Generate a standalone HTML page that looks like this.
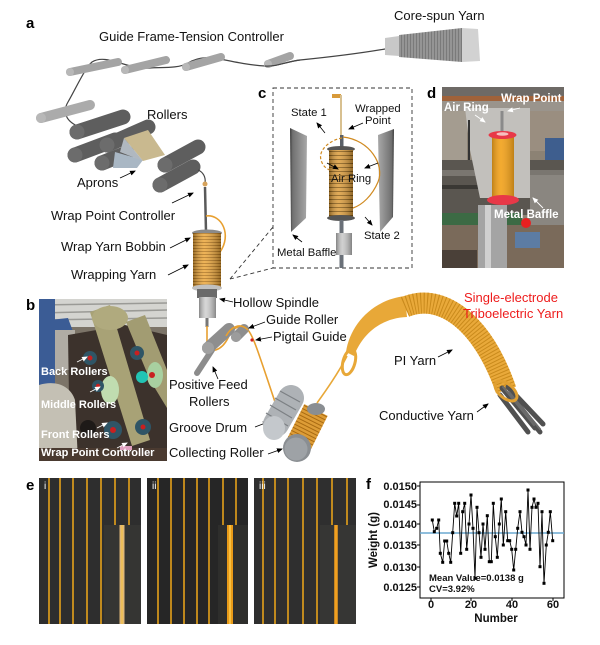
<!DOCTYPE html>
<html><head><meta charset="utf-8"><style>
html,body{margin:0;padding:0;background:#fff;}
svg{display:block;font-family:"Liberation Sans",Arial,sans-serif;}
</style></head><body>
<svg width="600" height="645" viewBox="0 0 600 645" xmlns="http://www.w3.org/2000/svg">
<defs>
<pattern id="wrap" width="4" height="3" patternUnits="userSpaceOnUse"><rect width="4" height="3" fill="#eba63a"/><rect y="2.2" width="4" height="0.8" fill="#a86a12"/></pattern>
<pattern id="wrapc" width="4" height="4" patternUnits="userSpaceOnUse"><rect width="4" height="4" fill="#dc9c3a"/><rect y="3" width="4" height="1" fill="#8a5a10"/></pattern>
<pattern id="ridge" width="3" height="4" patternUnits="userSpaceOnUse"><rect width="3" height="4" fill="#959595"/><rect x="2" width="1" height="4" fill="#7a7a7a"/></pattern>
<linearGradient id="cyl" x1="0" x2="1" y1="0" y2="0"><stop offset="0" stop-color="#000" stop-opacity="0.35"/><stop offset="0.4" stop-color="#fff" stop-opacity="0.15"/><stop offset="1" stop-color="#000" stop-opacity="0.35"/></linearGradient>
<linearGradient id="baf" x1="0" x2="1"><stop offset="0" stop-color="#3a3a3a"/><stop offset="0.15" stop-color="#707070"/><stop offset="1" stop-color="#a8a8a8"/></linearGradient>
<linearGradient id="baf2" x1="0" x2="1"><stop offset="0" stop-color="#a8a8a8"/><stop offset="0.85" stop-color="#707070"/><stop offset="1" stop-color="#3a3a3a"/></linearGradient>
<clipPath id="cb"><rect x="39" y="299" width="128" height="162"/></clipPath>
<clipPath id="cd"><rect x="442" y="87" width="122" height="181"/></clipPath>
<marker id="ah" markerWidth="6" markerHeight="6" refX="5" refY="3" orient="auto" markerUnits="userSpaceOnUse"><path d="M0,0.5 L6,3 L0,5.5 z" fill="#000"/></marker>
<marker id="ahw" markerWidth="6" markerHeight="6" refX="5" refY="3" orient="auto" markerUnits="userSpaceOnUse"><path d="M0,0.5 L6,3 L0,5.5 z" fill="#fff"/></marker>
</defs>
<rect width="600" height="645" fill="#fff"/>

<!-- ================= PANEL A ================= -->
<text x="26" y="28" font-size="15" font-weight="bold">a</text>
<text x="99" y="41" font-size="13" fill="#111">Guide Frame-Tension Controller</text>
<text x="394" y="20" font-size="13" fill="#111">Core-spun Yarn</text>

<path d="M385,49 C350,55 320,58 300,60 C285,62 275,67 265,66 C250,65 240,63 225,60 S200,56 188,63 C178,69 160,67 150,68 S130,66 120,63 S100,57 92,62 C85,68 75,90 68,102 C62,112 66,122 80,127" fill="none" stroke="#444" stroke-width="1.2"/>
<polygon points="385,38 399,36 399,56 385,55" fill="#c8c8c8"/>
<polygon points="399,35 462,28 462,62 399,57" fill="url(#ridge)"/>
<polygon points="462,28 478,29 480,61 462,62" fill="#d2d2d2"/>
<g stroke-linecap="round">
<line x1="70" y1="72" x2="118" y2="62" stroke="#a4a4a4" stroke-width="8"/>
<line x1="125" y1="70" x2="166" y2="60" stroke="#a4a4a4" stroke-width="8"/>
<line x1="186" y1="67" x2="221" y2="57" stroke="#a4a4a4" stroke-width="8"/>
<line x1="268" y1="64" x2="290" y2="56" stroke="#a4a4a4" stroke-width="8"/>
<line x1="41" y1="118" x2="90" y2="105" stroke="#ababab" stroke-width="10"/>
</g>
<g fill="#b8b8b8"><circle cx="70" cy="72" r="4"/><circle cx="125" cy="70" r="4"/><circle cx="186" cy="67" r="4"/><circle cx="268" cy="64" r="4"/><circle cx="41" cy="118" r="5"/></g>
<path d="M300,60 C285,62 275,67 265,66" fill="none" stroke="#444" stroke-width="1.2"/>

<g stroke-linecap="round" stroke="#5e5e5e" stroke-width="15">
<line x1="75" y1="155" x2="115" y2="140"/>
<line x1="77" y1="132" x2="123" y2="117"/>
</g>
<circle cx="75" cy="155" r="7.5" fill="#6c6c6c"/>
<circle cx="77" cy="132" r="7.5" fill="#6c6c6c"/>
<line x1="102" y1="163" x2="127" y2="153" stroke="#5e5e5e" stroke-width="15" stroke-linecap="round"/>
<circle cx="102" cy="163" r="7.5" fill="#6c6c6c"/>
<polygon points="115,152 143,160 137,168 113,168" fill="#a9b7c4"/>
<line x1="107" y1="145" x2="148" y2="127" stroke="#5e5e5e" stroke-width="15" stroke-linecap="round"/>
<circle cx="107" cy="145" r="7.5" fill="#6c6c6c"/>
<polygon points="124,138 148,130 165,155 143,161" fill="#c9b98f"/>
<polygon points="124,138 143,161 120,152" fill="#b0b8c0"/>
<line x1="165" y1="157" x2="172" y2="155" stroke="#444" stroke-width="1"/>
<line x1="160" y1="185" x2="193" y2="167" stroke="#5e5e5e" stroke-width="15" stroke-linecap="round"/>
<circle cx="160" cy="185" r="7.5" fill="#6c6c6c"/>
<line x1="165" y1="165" x2="198" y2="147" stroke="#5e5e5e" stroke-width="15" stroke-linecap="round"/>
<circle cx="165" cy="165" r="7.5" fill="#6c6c6c"/>
<path d="M198,170 C203,172 206,177 205,183" fill="none" stroke="#444" stroke-width="1.2"/>
<text x="147" y="119" font-size="13" fill="#111">Rollers</text>
<text x="77" y="187" font-size="13" fill="#111">Aprons</text>
<line x1="120" y1="178" x2="135" y2="171" stroke="#000" stroke-width="0.8" marker-end="url(#ah)"/>
<text x="51" y="220" font-size="13" fill="#111">Wrap Point Controller</text>
<line x1="172" y1="203" x2="193" y2="193" stroke="#000" stroke-width="0.8" marker-end="url(#ah)"/>
<text x="61" y="251" font-size="13" fill="#111">Wrap Yarn Bobbin</text>
<line x1="170" y1="248" x2="190" y2="238" stroke="#000" stroke-width="0.8" marker-end="url(#ah)"/>
<text x="71" y="279" font-size="13" fill="#111">Wrapping Yarn</text>
<line x1="168" y1="275" x2="188" y2="265" stroke="#000" stroke-width="0.8" marker-end="url(#ah)"/>

<circle cx="205" cy="184" r="2.5" fill="#d6a25a"/>
<line x1="205" y1="187" x2="206" y2="232" stroke="#5a5a5a" stroke-width="2.5"/>
<path d="M206,216 C222,214 232,235 220,252" fill="none" stroke="#e8a030" stroke-width="1.6"/>
<ellipse cx="207" cy="233" rx="15" ry="3.5" fill="#8a8a8a"/>
<rect x="193" y="233" width="28" height="54" fill="url(#wrap)"/>
<rect x="193" y="233" width="28" height="54" fill="url(#cyl)"/>
<ellipse cx="207" cy="288" rx="15" ry="3.5" fill="#c0c0c0"/>
<rect x="197" y="289" width="20" height="9" fill="#6a6a6a"/>
<rect x="199" y="297" width="17" height="21" fill="#cfcfcf"/>
<rect x="199" y="297" width="17" height="21" fill="url(#cyl)"/>
<rect x="205.5" y="318" width="3" height="9" fill="#777"/>
<line x1="230" y1="279" x2="273" y2="227" stroke="#333" stroke-width="0.9" stroke-dasharray="4,3"/>
<line x1="230" y1="279" x2="273" y2="268" stroke="#333" stroke-width="0.9" stroke-dasharray="4,3"/>

<path d="M207,326 L207,345 C210,355 222,350 228,338 C232,328 240,323 248,330 C253,336 256,345 276,405" fill="none" stroke="#e8a030" stroke-width="1.6"/>
<line x1="197" y1="373" x2="212" y2="350" stroke="#8c8c8c" stroke-width="6" stroke-linecap="round"/>
<line x1="208" y1="348" x2="229" y2="329" stroke="#8e8e8e" stroke-width="12" stroke-linecap="round"/>
<circle cx="208" cy="348" r="6" fill="#a0a0a0"/>
<line x1="236" y1="337" x2="244" y2="329" stroke="#8e8e8e" stroke-width="10" stroke-linecap="round"/>
<circle cx="236" cy="337" r="5" fill="#9c9c9c"/>
<path d="M226,336 C231,327 240,322 248,330" fill="none" stroke="#e8a030" stroke-width="1.6"/>
<circle cx="252" cy="340" r="1.6" fill="#d02020"/>
<text x="233" y="307" font-size="13" fill="#111">Hollow Spindle</text>
<line x1="233" y1="302" x2="220" y2="299" stroke="#000" stroke-width="0.8" marker-end="url(#ah)"/>
<text x="266" y="324" font-size="13" fill="#111">Guide Roller</text>
<line x1="265" y1="322" x2="249" y2="328" stroke="#000" stroke-width="0.8" marker-end="url(#ah)"/>
<text x="273" y="341" font-size="13" fill="#111">Pigtail Guide</text>
<line x1="272" y1="337" x2="256" y2="340" stroke="#000" stroke-width="0.8" marker-end="url(#ah)"/>
<text x="169" y="389" font-size="13" fill="#111">Positive Feed</text>
<text x="189" y="406" font-size="13" fill="#111">Rollers</text>
<line x1="218" y1="379" x2="213" y2="367" stroke="#000" stroke-width="0.8" marker-end="url(#ah)"/>
<text x="169" y="432" font-size="13" fill="#111">Groove Drum</text>
<line x1="255" y1="427" x2="268" y2="422" stroke="#000" stroke-width="0.8" marker-end="url(#ah)"/>
<text x="169" y="457" font-size="13" fill="#111">Collecting Roller</text>
<line x1="268" y1="454" x2="282" y2="449" stroke="#000" stroke-width="0.8" marker-end="url(#ah)"/>

<line x1="276" y1="424" x2="291" y2="398" stroke="#aeb2b6" stroke-width="26" stroke-linecap="round"/>
<g stroke="#7c8084" stroke-width="1.2" fill="none">
<path d="M270,405 L292,418"/><path d="M275,398 L296,410"/><path d="M280,391 L300,402"/><path d="M266,413 L288,426"/>
</g>
<ellipse cx="274" cy="428" rx="11" ry="12" fill="#c4c8cc"/>
<line x1="298" y1="446" x2="316" y2="410" stroke="#dd9c36" stroke-width="26" stroke-linecap="butt"/>
<line x1="298" y1="446" x2="316" y2="410" stroke="#a86a12" stroke-width="26" stroke-dasharray="1,2.5"/>
<ellipse cx="316" cy="409" rx="9" ry="6" fill="#8a8e92"/>
<circle cx="297" cy="448" r="14" fill="#8a8e92"/>
<circle cx="296" cy="449" r="11.5" fill="#9ea2a6"/>

<path d="M317,403 C330,385 340,370 347,356" fill="none" stroke="#e8a838" stroke-width="1.6"/>
<ellipse cx="349" cy="362" rx="6" ry="13" transform="rotate(15 349 362)" fill="none" stroke="#e8a838" stroke-width="3"/>
<path d="M346,352 C350,325 372,300 405,296 L407,317 C380,318 362,335 354,356 Z" fill="#e8a838"/>
<path d="M405,307 C440,292 482,320 506,390" fill="none" stroke="#e9a93a" stroke-width="21"/>
<path d="M405,307 C440,292 482,320 506,390" fill="none" stroke="#c98a1c" stroke-width="21" stroke-dasharray="1,2.2"/>
<g stroke="#505050" stroke-width="5" stroke-linecap="round">
<line x1="502" y1="388" x2="535" y2="428"/>
<line x1="508" y1="387" x2="543" y2="424"/>
<line x1="500" y1="395" x2="528" y2="432"/>
<line x1="510" y1="394" x2="540" y2="432"/>
</g>
<g stroke="#6a6a6a" stroke-width="2" stroke-linecap="round">
<line x1="503" y1="387" x2="534" y2="425"/><line x1="509" y1="392" x2="540" y2="429"/>
</g>
<ellipse cx="506" cy="391" rx="13" ry="7" transform="rotate(40 506 391)" fill="none" stroke="#e0a032" stroke-width="3"/>
<text x="464" y="302" font-size="13" fill="#ee1c1c">Single-electrode</text>
<text x="463" y="318" font-size="13" fill="#ee1c1c">Triboelectric Yarn</text>
<text x="394" y="365" font-size="13" fill="#111">PI Yarn</text>
<line x1="438" y1="357" x2="452" y2="350" stroke="#000" stroke-width="0.8" marker-end="url(#ah)"/>
<text x="379" y="420" font-size="13" fill="#111">Conductive Yarn</text>
<line x1="477" y1="412" x2="488" y2="404" stroke="#000" stroke-width="0.8" marker-end="url(#ah)"/>

<!-- ================= PANEL C ================= -->
<text x="258" y="98" font-size="15" font-weight="bold">c</text>
<rect x="273" y="88" width="139" height="180" fill="none" stroke="#333" stroke-width="0.9" stroke-dasharray="4,3"/>
<polygon points="290,128 307,136 306,218 291,232" fill="url(#baf)"/>
<polygon points="378,135 394,129 393,217 380,232" fill="url(#baf2)"/>
<rect x="332" y="94" width="9" height="4" fill="#d89a3a"/>
<line x1="341" y1="95" x2="341" y2="136" stroke="#d8c090" stroke-width="2"/>
<rect x="340" y="135" width="3.5" height="14" fill="#5a6068"/>
<path d="M342,138 C330,140 318,150 321,160 C323,167 328,170 333,171" fill="none" stroke="#d08a20" stroke-width="1.2" stroke-dasharray="3,2"/>
<ellipse cx="341" cy="149" rx="14" ry="3" fill="#555"/>
<rect x="329" y="150" width="24" height="67" fill="url(#wrapc)"/>
<rect x="329" y="150" width="24" height="67" fill="url(#cyl)"/>
<path d="M343,137 C370,140 385,165 378,182 C372,196 362,205 353,208" fill="none" stroke="#d08a20" stroke-width="1.2"/>
<ellipse cx="341" cy="218" rx="14" ry="3" fill="#555"/>
<rect x="339.5" y="220" width="4" height="13" fill="#6a7078"/>
<rect x="336" y="233" width="16" height="22" fill="#c8c8c8"/>
<rect x="336" y="233" width="16" height="22" fill="url(#cyl)"/>
<rect x="339.5" y="255" width="4" height="13" fill="#6a7078"/>
<g font-size="11.3" fill="#111">
<text x="291" y="116">State 1</text>
<text x="355" y="112">Wrapped</text>
<text x="365" y="124">Point</text>
<text x="331" y="182">Air Ring</text>
<text x="364" y="239">State 2</text>
<text x="277" y="256">Metal Baffle</text>
</g>
<g stroke="#000" stroke-width="0.8">
<line x1="325" y1="133" x2="317" y2="123" marker-end="url(#ah)"/>
<line x1="363" y1="123" x2="349" y2="129" marker-end="url(#ah)"/>
<line x1="327" y1="163" x2="338" y2="169" marker-end="url(#ah)"/>
<line x1="378" y1="163" x2="365" y2="168" marker-end="url(#ah)"/>
<line x1="365" y1="217" x2="372" y2="225" marker-end="url(#ah)"/>
<line x1="302" y1="242" x2="293" y2="235" marker-end="url(#ah)"/>
</g>

<!-- ================= PANEL D ================= -->
<text x="427" y="98" font-size="15" font-weight="bold">d</text>
<g clip-path="url(#cd)">
<rect x="442" y="87" width="122" height="181" fill="#8c8274"/>
<rect x="442" y="87" width="122" height="12" fill="#6e6a66"/>
<rect x="442" y="96" width="122" height="5" fill="#a0623a"/>
<rect x="442" y="101" width="122" height="10" fill="#9a948c"/>
<rect x="442" y="111" width="25" height="50" fill="#a49c90"/>
<rect x="530" y="111" width="34" height="40" fill="#9a8e80"/>
<rect x="545" y="138" width="19" height="30" fill="#3e5e8e"/>
<rect x="442" y="160" width="122" height="55" fill="#5a5650"/>
<rect x="442" y="170" width="122" height="6" fill="#7a7670"/>
<rect x="442" y="185" width="122" height="4" fill="#3a3834"/>
<rect x="530" y="175" width="34" height="60" fill="#8a8680"/>
<polygon points="465,108 530,108 530,198 480,198 470,150" fill="#c2c0bc"/>
<rect x="468" y="120" width="2" height="40" fill="#333"/>
<rect x="442" y="213" width="80" height="12" fill="#3c6a44"/>
<rect x="442" y="225" width="122" height="43" fill="#7a6a5a"/>
<rect x="478" y="205" width="29" height="63" fill="#a4a4a4"/>
<rect x="485" y="205" width="6" height="63" fill="#d0d0d0"/>
<rect x="515" y="232" width="25" height="16" fill="#5c7ca4"/>
<rect x="442" y="250" width="35" height="18" fill="#4a4038"/>
<circle cx="526" cy="223" r="5" fill="#e82020"/>
<rect x="500.5" y="111" width="3" height="25" fill="#8a8a8a"/>
<rect x="492" y="135" width="22" height="63" fill="#f2a21c"/>
<rect x="492" y="135" width="22" height="63" fill="url(#cyl)" opacity="0.6"/>
<ellipse cx="502.5" cy="135" rx="14" ry="4" fill="#e83848"/>
<ellipse cx="502.5" cy="134" rx="6" ry="1.8" fill="#f6c0c0"/>
<ellipse cx="503" cy="200" rx="16" ry="5" fill="#e83848"/>
</g>
<g font-size="11.5" font-weight="bold" fill="#fff">
<text x="501" y="102">Wrap Point</text>
<text x="444" y="111">Air Ring</text>
<text x="494" y="218">Metal Baffle</text>
</g>
<g stroke="#fff" stroke-width="0.9">
<line x1="520" y1="108" x2="508" y2="111" marker-end="url(#ahw)"/>
<line x1="475" y1="115" x2="485" y2="122" marker-end="url(#ahw)"/>
<line x1="543" y1="208" x2="533" y2="198" marker-end="url(#ahw)"/>
</g>

<!-- ================= PANEL B ================= -->
<text x="26" y="310" font-size="15" font-weight="bold">b</text>
<g clip-path="url(#cb)">
<rect x="39" y="299" width="128" height="162" fill="#7c7468"/>
<rect x="39" y="299" width="128" height="28" fill="#d4d4d0"/>
<g stroke="#9a9a96" stroke-width="1.5"><line x1="39" y1="305" x2="167" y2="303"/><line x1="39" y1="313" x2="167" y2="310"/><line x1="39" y1="320" x2="167" y2="318"/></g>
<rect x="39" y="299" width="16" height="120" fill="#3b5c95"/>
<polygon points="50,320 68,318 78,345 60,352" fill="#3b5c95"/>
<rect x="55" y="330" width="20" height="40" fill="#b0aca4"/>
<polygon points="68,335 125,325 167,335 167,461 70,461" fill="#3c322c"/>
<path d="M39,385 C55,380 70,385 75,400 L78,461 L39,461 Z" fill="#c4c0b4"/>
<polygon points="90,312 110,305 150,440 132,446" fill="#a8a276"/>
<ellipse cx="110" cy="318" rx="18" ry="12" fill="#b0aa7e"/>
<polygon points="126,322 145,315 167,370 167,408 150,380" fill="#a29c72"/>
<ellipse cx="110" cy="390" rx="9" ry="14" fill="#c0dcb0"/>
<ellipse cx="155" cy="375" rx="8" ry="13" fill="#a8d0a0"/>
<circle cx="142" cy="377" r="6" fill="#22c4b4"/>
<g fill="#2f5566">
<circle cx="90" cy="358" r="7"/><circle cx="137" cy="353" r="7"/><circle cx="98" cy="386" r="6"/><circle cx="113" cy="430" r="9"/><circle cx="143" cy="427" r="8"/>
</g>
<g fill="#c82020">
<circle cx="90" cy="358" r="2.5"/><circle cx="137" cy="353" r="2.5"/><circle cx="98" cy="386" r="2.2"/><circle cx="113" cy="430" r="3"/><circle cx="143" cy="427" r="2.5"/><circle cx="152" cy="375" r="3"/>
</g>
<circle cx="88" cy="428" r="8" fill="#1e1a18"/>
<rect x="39" y="448" width="128" height="13" fill="#4a3a30"/>
<rect x="120" y="446" width="12" height="4" fill="#e0a0c0"/>
</g>
<g font-size="11" font-weight="bold" fill="#fff">
<text x="41" y="375">Back Rollers</text>
<text x="41" y="408">Middle Rollers</text>
<text x="41" y="438">Front Rollers</text>
<text x="41" y="456">Wrap Point Controller</text>
</g>
<g stroke="#fff" stroke-width="0.9">
<line x1="77" y1="362" x2="87" y2="357" marker-end="url(#ahw)"/>
<line x1="90" y1="392" x2="100" y2="387" marker-end="url(#ahw)"/>
<line x1="97" y1="428" x2="107" y2="423" marker-end="url(#ahw)"/>
<line x1="117" y1="448" x2="127" y2="443" marker-end="url(#ahw)"/>
</g>

<!-- ================= PANEL E ================= -->
<text x="26" y="490" font-size="15" font-weight="bold">e</text>
<rect x="39" y="478" width="102" height="146" fill="#2e2e2e"/>
<rect x="104" y="525" width="37" height="99" fill="#353533"/>
<rect x="147" y="478" width="101" height="146" fill="#262626"/>
<rect x="218" y="525" width="30" height="99" fill="#2e2e2c"/>
<rect x="254" y="478" width="102" height="146" fill="#2f2f2f"/>
<rect x="320" y="525" width="36" height="99" fill="#363634"/>
<g stroke="#f0a818" stroke-width="1.5">
<line x1="49" y1="478" x2="49" y2="624"/><line x1="60" y1="478" x2="60" y2="624"/><line x1="73" y1="478" x2="73" y2="624"/><line x1="87" y1="478" x2="87" y2="624"/><line x1="101" y1="478" x2="101" y2="624"/>
<line x1="115" y1="478" x2="115" y2="525"/><line x1="129" y1="478" x2="129" y2="525"/>
<line x1="158" y1="478" x2="158" y2="624"/><line x1="171" y1="478" x2="171" y2="624"/><line x1="184" y1="478" x2="184" y2="624"/><line x1="197" y1="478" x2="197" y2="624"/><line x1="209" y1="478" x2="209" y2="624"/>
<line x1="223" y1="478" x2="223" y2="525"/><line x1="236" y1="478" x2="236" y2="525"/>
<line x1="263" y1="478" x2="263" y2="624"/><line x1="275" y1="478" x2="275" y2="624"/><line x1="288" y1="478" x2="288" y2="624"/><line x1="303" y1="478" x2="303" y2="624"/><line x1="317" y1="478" x2="317" y2="624"/>
<line x1="332" y1="478" x2="332" y2="525"/><line x1="347" y1="478" x2="347" y2="525"/>
</g>
<line x1="122" y1="525" x2="122" y2="624" stroke="#e0b878" stroke-width="5"/>
<line x1="122" y1="525" x2="122" y2="624" stroke="#f0c050" stroke-width="1.5"/>
<line x1="230" y1="525" x2="230" y2="624" stroke="#e89a18" stroke-width="6"/>
<line x1="230" y1="525" x2="230" y2="624" stroke="#f8c040" stroke-width="2"/>
<line x1="336" y1="525" x2="336" y2="624" stroke="#f2a020" stroke-width="3.5"/>
<g font-size="10" fill="#fff"><text x="44" y="489">i</text><text x="152" y="489">ii</text><text x="259" y="489">iii</text></g>

<!-- ================= PANEL F ================= -->
<text x="366" y="489" font-size="15" font-weight="bold">f</text>
<rect x="420" y="482" width="144" height="116" fill="none" stroke="#000" stroke-width="1"/>
<line x1="420" y1="533" x2="564" y2="533" stroke="#6aa8d0" stroke-width="1.6"/>
<g font-size="11" font-weight="bold" text-anchor="end" fill="#111">
<text x="417" y="490">0.0150</text><text x="417" y="508">0.0145</text><text x="417" y="528">0.0140</text><text x="417" y="549">0.0135</text><text x="417" y="571">0.0130</text><text x="417" y="591">0.0125</text>
</g>
<g font-size="11" font-weight="bold" text-anchor="middle" fill="#111">
<text x="431" y="608">0</text><text x="471" y="608">20</text><text x="512" y="608">40</text><text x="553" y="608">60</text>
</g>
<g stroke="#000" stroke-width="1">
<line x1="431" y1="598" x2="431" y2="601"/><line x1="471" y1="598" x2="471" y2="601"/><line x1="512" y1="598" x2="512" y2="601"/><line x1="553" y1="598" x2="553" y2="601"/>
<line x1="417" y1="486" x2="420" y2="486"/><line x1="417" y1="505" x2="420" y2="505"/><line x1="417" y1="524" x2="420" y2="524"/><line x1="417" y1="545" x2="420" y2="545"/><line x1="417" y1="567" x2="420" y2="567"/><line x1="417" y1="587" x2="420" y2="587"/>
</g>
<text x="496" y="622" font-size="11.5" font-weight="bold" text-anchor="middle" fill="#111">Number</text>
<text x="377" y="540" font-size="11.5" font-weight="bold" text-anchor="middle" fill="#111" transform="rotate(-90 377 540)">Weight (g)</text>
<polyline fill="none" stroke="#000" stroke-width="0.9" points="432.3,520 434.3,531.7 436.7,528.3 438.7,520 440.3,553.3 442.7,562.3 444.7,541 446.7,541 448.7,553.3 450.7,562.3 452.7,532.7 454.7,503.3 456.7,516 458.7,503.3 460.7,553.3 462.7,511.7 464.7,503.3 466.7,549.3 469,524 471,495 473,528.3 475,578.3 477,507.3 479,532.7 481,557.3 483,524 485,549.3 487.3,515.7 489.3,561.7 491.3,561.7 493.3,503.3 495.3,536.7 497.3,557.3 499.3,524 501.3,499 503.3,545 505.7,511.7 507.7,540.7 509.7,540.7 511.7,549.3 513.7,570 515.7,549.3 517.7,528.3 520,511.7 522,532.3 524,536.7 526,545 528,490 530,549.3 532,507.3 534,499 536,507.3 538,503.3 540,566.7 542,511.7 544,583.3 546.3,545 548.3,532.3 550.3,511.7 552.7,540.7"/>
<g fill="#000">
<rect x="430.8" y="518.5" width="3" height="3"/><rect x="432.8" y="530.2" width="3" height="3"/><rect x="435.2" y="526.8" width="3" height="3"/><rect x="437.2" y="518.5" width="3" height="3"/><rect x="438.8" y="551.8" width="3" height="3"/><rect x="441.2" y="560.8" width="3" height="3"/><rect x="443.2" y="539.5" width="3" height="3"/><rect x="445.2" y="539.5" width="3" height="3"/><rect x="447.2" y="551.8" width="3" height="3"/><rect x="449.2" y="560.8" width="3" height="3"/><rect x="451.2" y="531.2" width="3" height="3"/><rect x="453.2" y="501.8" width="3" height="3"/><rect x="455.2" y="514.5" width="3" height="3"/><rect x="457.2" y="501.8" width="3" height="3"/><rect x="459.2" y="551.8" width="3" height="3"/><rect x="461.2" y="510.2" width="3" height="3"/><rect x="463.2" y="501.8" width="3" height="3"/><rect x="465.2" y="547.8" width="3" height="3"/><rect x="467.5" y="522.5" width="3" height="3"/><rect x="469.5" y="493.5" width="3" height="3"/><rect x="471.5" y="526.8" width="3" height="3"/><rect x="473.5" y="576.8" width="3" height="3"/><rect x="475.5" y="505.8" width="3" height="3"/><rect x="477.5" y="531.2" width="3" height="3"/><rect x="479.5" y="555.8" width="3" height="3"/><rect x="481.5" y="522.5" width="3" height="3"/><rect x="483.5" y="547.8" width="3" height="3"/><rect x="485.8" y="514.2" width="3" height="3"/><rect x="487.8" y="560.2" width="3" height="3"/><rect x="489.8" y="560.2" width="3" height="3"/><rect x="491.8" y="501.8" width="3" height="3"/><rect x="493.8" y="535.2" width="3" height="3"/><rect x="495.8" y="555.8" width="3" height="3"/><rect x="497.8" y="522.5" width="3" height="3"/><rect x="499.8" y="497.5" width="3" height="3"/><rect x="501.8" y="543.5" width="3" height="3"/><rect x="504.2" y="510.2" width="3" height="3"/><rect x="506.2" y="539.2" width="3" height="3"/><rect x="508.2" y="539.2" width="3" height="3"/><rect x="510.2" y="547.8" width="3" height="3"/><rect x="512.2" y="568.5" width="3" height="3"/><rect x="514.2" y="547.8" width="3" height="3"/><rect x="516.2" y="526.8" width="3" height="3"/><rect x="518.5" y="510.2" width="3" height="3"/><rect x="520.5" y="530.8" width="3" height="3"/><rect x="522.5" y="535.2" width="3" height="3"/><rect x="524.5" y="543.5" width="3" height="3"/><rect x="526.5" y="488.5" width="3" height="3"/><rect x="528.5" y="547.8" width="3" height="3"/><rect x="530.5" y="505.8" width="3" height="3"/><rect x="532.5" y="497.5" width="3" height="3"/><rect x="534.5" y="505.8" width="3" height="3"/><rect x="536.5" y="501.8" width="3" height="3"/><rect x="538.5" y="565.2" width="3" height="3"/><rect x="540.5" y="510.2" width="3" height="3"/><rect x="542.5" y="581.8" width="3" height="3"/><rect x="544.8" y="543.5" width="3" height="3"/><rect x="546.8" y="530.8" width="3" height="3"/><rect x="548.8" y="510.2" width="3" height="3"/><rect x="551.2" y="539.2" width="3" height="3"/>
</g>
<g font-size="9.5" font-weight="bold" fill="#111">
<text x="429" y="581">Mean Value=0.0138 g</text>
<text x="429" y="592">CV=3.92%</text>
</g>
</svg>
</body></html>
